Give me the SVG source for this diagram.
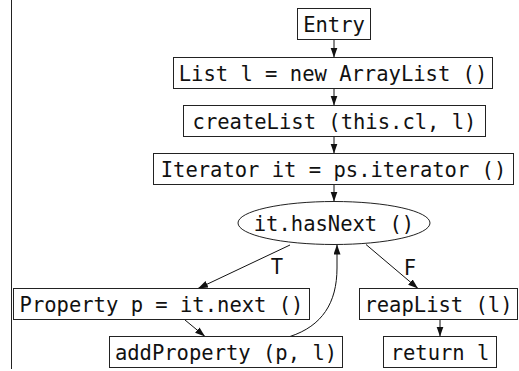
<svg xmlns="http://www.w3.org/2000/svg" width="519" height="371" viewBox="0 0 519 371">
  <style>
    .box { fill: #ffffff; stroke: #222222; stroke-width: 1; }
    .lbl { font-family: "DejaVu Sans Mono", "Liberation Mono", monospace; font-size: 20.5px; fill: #111111; text-anchor: middle; }
    .edge { fill: none; stroke: #111111; stroke-width: 1; marker-end: url(#arrow); }
  </style>
  <defs>
    <marker id="arrow" markerUnits="userSpaceOnUse" markerWidth="10" markerHeight="8" refX="10" refY="3.5" orient="auto">
      <path d="M0,0 L10,3.5 L0,7 z" fill="#111111"/>
    </marker>
  </defs>
  <rect width="519" height="371" fill="#ffffff"/>

  <!-- margin rule on the left -->
  <line x1="11.5" y1="0" x2="11.5" y2="369" stroke="#222222" stroke-width="1"/>

  <g id="connectors">
    <line class="edge" x1="334" y1="39.5" x2="334" y2="57.5"/>
    <line class="edge" x1="334" y1="88.5" x2="334" y2="105.5"/>
    <line class="edge" x1="334" y1="136.5" x2="334" y2="153.5"/>
    <line class="edge" x1="334" y1="184.5" x2="334" y2="201.5"/>
    <line class="edge" x1="290" y1="245" x2="198" y2="288.5"/>
    <line class="edge" x1="366" y1="244.5" x2="418" y2="288.5"/>
    <line class="edge" x1="185" y1="320" x2="205" y2="336.5"/>
    <path class="edge" d="M290,336.5 C322,326 337,303 337,268 L337,244.5"/>
    <line class="edge" x1="440" y1="319.5" x2="440" y2="336.5"/>
    <text class="lbl" x="277" y="274">T</text>
    <text class="lbl" x="410" y="275">F</text>
  </g>

  <g id="entry">
    <rect class="box" x="297.5" y="8.5" width="73" height="31"/>
    <text class="lbl" x="334" y="31.5">Entry</text>
  </g>
  <g id="new-list">
    <rect class="box" x="173.5" y="57.5" width="319" height="31"/>
    <text class="lbl" x="333" y="80.5">List l = new ArrayList ()</text>
  </g>
  <g id="create-list">
    <rect class="box" x="183.5" y="105.5" width="302" height="31"/>
    <text class="lbl" x="334.5" y="128.5">createList (this.cl, l)</text>
  </g>
  <g id="iterator">
    <rect class="box" x="153.5" y="153.5" width="360" height="31"/>
    <text class="lbl" x="333.5" y="176.5">Iterator it = ps.iterator ()</text>
  </g>
  <g id="has-next">
    <ellipse class="box" cx="334" cy="223" rx="96" ry="21.5"/>
    <text class="lbl" x="334" y="230.5">it.hasNext ()</text>
  </g>
  <g id="next-property">
    <rect class="box" x="13.5" y="288.5" width="296" height="31"/>
    <text class="lbl" x="161.5" y="311.5">Property p = it.next ()</text>
  </g>
  <g id="add-property">
    <rect class="box" x="109.5" y="336.5" width="233" height="31"/>
    <text class="lbl" x="226" y="359.5">addProperty (p, l)</text>
  </g>
  <g id="reap-list">
    <rect class="box" x="359.5" y="288.5" width="158" height="31"/>
    <text class="lbl" x="438.5" y="311.5">reapList (l)</text>
  </g>
  <g id="return">
    <rect class="box" x="383.5" y="336.5" width="113" height="31"/>
    <text class="lbl" x="440" y="359.5">return l</text>
  </g>
</svg>
